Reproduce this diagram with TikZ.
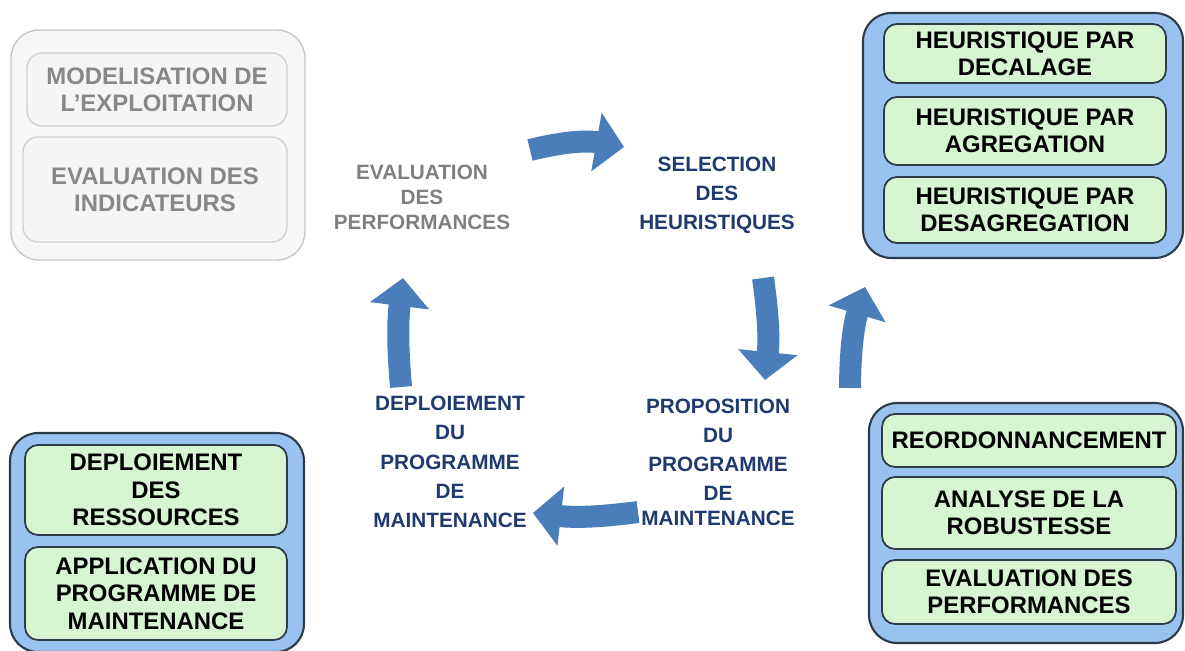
\documentclass[tikz,border=0pt]{standalone}
\usepackage{fontspec}
\setmainfont{Liberation Sans}
\usetikzlibrary{arrows.meta}

\definecolor{flowblue}{HTML}{4A7EBB}
\definecolor{panelblue}{HTML}{99C2F0}
\definecolor{itemgreen}{HTML}{D5F6D0}
\definecolor{edgedark}{HTML}{2E3A46}
\definecolor{navytext}{HTML}{1F3A6E}
\definecolor{greytext}{HTML}{7F7F7F}

\tikzset{
    blueframe/.style={draw=edgedark, line width=1.2pt, fill=panelblue, rounded corners=0.56cm},
    greenitem/.style={draw=edgedark, line width=1pt, fill=itemgreen, rounded corners=0.26cm,
        align=center, font=\fontsize{13.6}{15.6}\selectfont\bfseries, text=black, inner sep=0pt},
    grayframe/.style={draw=black!22, line width=0.8pt, fill=black!3, rounded corners=0.56cm},
    grayitem/.style={draw=black!18, line width=0.8pt, fill=black!4, rounded corners=0.3cm,
        align=center, font=\fontsize{13.6}{15.4}\selectfont\bfseries, text=black!47, inner sep=0pt},
    cyclelabel/.style={align=center, font=\fontsize{11.8}{16.6}\selectfont\bfseries, text=navytext},
    cycleflow/.style={draw=flowblue, line width=0.44cm, -{Triangle[length=0.56cm,width=1.16cm]}}
}

\begin{document}
\begin{tikzpicture}[x=0.02cm, y=0.02cm]
    \useasboundingbox (0,0) rectangle (1185,650);

    % Upper left panel (greyed out)
    \node[grayframe, minimum width=5.88cm, minimum height=4.6cm] (expl) at (158,505) {};
    \node[grayitem, minimum width=5.2cm, minimum height=1.46cm] (model) at (157,560.5)
        {MODELISATION DE\\L'EXPLOITATION};
    \node[grayitem, minimum width=5.28cm, minimum height=2.1cm] (indic) at (155,460.5)
        {EVALUATION DES\\INDICATEURS};

    % Upper right panel
    \node[blueframe, minimum width=6.4cm, minimum height=4.9cm] (heur) at (1023,514.5) {};
    \node[greenitem, minimum width=5.64cm, minimum height=1.18cm] (decal) at (1025,596.5)
        {HEURISTIQUE PAR\\DECALAGE};
    \node[greenitem, minimum width=5.64cm, minimum height=1.36cm] (agreg) at (1025,519)
        {HEURISTIQUE PAR\\AGREGATION};
    \node[greenitem, minimum width=5.64cm, minimum height=1.32cm] (desag) at (1025,440)
        {HEURISTIQUE PAR\\DESAGREGATION};

    % Lower left panel
    \node[blueframe, minimum width=5.88cm, minimum height=4.38cm] (deploy) at (157,107.5) {};
    \node[greenitem, minimum width=5.24cm, minimum height=1.8cm] (ress) at (156,160)
        {DEPLOIEMENT\\DES\\RESSOURCES};
    \node[greenitem, minimum width=5.24cm, minimum height=1.86cm] (appli) at (156,56.5)
        {APPLICATION DU\\PROGRAMME DE\\MAINTENANCE};

    % Lower right panel
    \node[blueframe, minimum width=6.28cm, minimum height=4.8cm] (propo) at (1026,127) {};
    \node[greenitem, minimum width=5.88cm, minimum height=1.06cm] (reord) at (1029,209.5)
        {REORDONNANCEMENT};
    \node[greenitem, minimum width=5.88cm, minimum height=1.44cm] (robust) at (1029,137)
        {ANALYSE DE LA\\ROBUSTESSE};
    \node[greenitem, minimum width=5.88cm, minimum height=1.28cm] (perf) at (1029,58)
        {EVALUATION DES\\PERFORMANCES};

    % Cycle steps
    \node[cyclelabel, text=greytext, font=\fontsize{11.8}{14.2}\selectfont\bfseries] (evalp) at (422,453)
        {EVALUATION\\DES\\PERFORMANCES};
    \node[cyclelabel] (selh) at (717,455) {SELECTION\\DES\\HEURISTIQUES};
    \node[cyclelabel] (propm) at (718,188) {PROPOSITION\\DU\\PROGRAMME\\DE\\[-2.5pt]MAINTENANCE};
    \node[cyclelabel] (deplm) at (450,188) {DEPLOIEMENT\\DU\\PROGRAMME\\DE\\MAINTENANCE};

    % Block arrows of the cycle
    \coordinate (a1) at (530,500);
    \coordinate (b1) at (624,503);
    \coordinate (a2) at (763,372);
    \coordinate (b2) at (765,270);
    \coordinate (a3) at (850,262);
    \coordinate (b3) at (865,363);
    \coordinate (a4) at (638,138);
    \coordinate (b4) at (533,137);
    \coordinate (a5) at (401,263);
    \coordinate (b5) at (403,372);
    \draw[cycleflow] (a1) to[bend left=12] (b1);
    \draw[cycleflow] (a2) to[bend left=7] (b2);
    \draw[cycleflow] (a3) to[bend left=8] (b3);
    \draw[cycleflow] (a4) to[bend left=7] (b4);
    \draw[cycleflow] (a5) to[bend left=6] (b5);
\end{tikzpicture}
\end{document}
